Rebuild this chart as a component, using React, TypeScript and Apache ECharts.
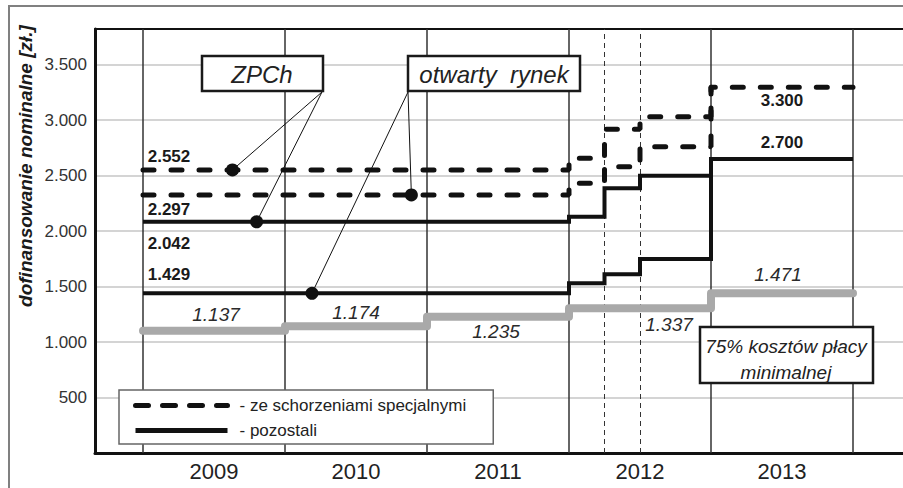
import React, { useEffect, useRef } from 'react';
import * as echarts from 'echarts';

// ---- data ----
const yearLabels = ['2009', '2010', '2011', '2012', '2013'];
const yearBounds = [2009, 2010, 2011, 2012, 2013, 2014];
const quarterBounds = [2012.25, 2012.5];
const stepX = [2009, 2012, 2012.25, 2012.5, 2013, 2014];
const zpchSpecial = [2550, 2655, 2916, 3030, 3295, 3295];
const openSpecial = [2325, 2430, 2580, 2760, 3295];
const zpchOther = [2083, 2129, 2385, 2498, 2649, 2649];
const openOther = [1439, 1529, 1610, 1748, 2649];
const minWageX = [2009, 2010, 2011, 2012, 2013, 2014];
const minWage75 = [1102, 1143, 1228, 1304, 1439, 1439];
const minWageLabels = ['1.137', '1.174', '1.235', '1.337', '1.471'];
const zpchSpecialLabels = ['2.552', '3.300'];
const openSpecialLabels = ['2.297'];
const zpchOtherLabels = ['2.042', '2.700'];
const openOtherLabels = ['1.429'];
const legendNames = ['- ze schorzeniami specjalnymi', '- pozostali'];
const yTicksMax = 3500;

const FONT = "'Liberation Sans', Arial, sans-serif";

const pts = (xs: number[], ys: number[]) => ys.map((y, i) => [xs[i], y]);

const fmtY = (v: number) => {
  if (v <= 0 || v > yTicksMax) return '';
  if (v >= 1000) return Math.floor(v / 1000) + '.' + String(v % 1000).padStart(3, '0');
  return String(v);
};

const boldStyle = { fontSize: 17, fontWeight: 'bold', color: '#1a1a1a', fontFamily: FONT };
const italStyle = { fontSize: 19, fontStyle: 'italic', color: '#2a2a2a', fontFamily: FONT };

const lbl = (coord: number[], text: string, offset: number[], style: any) => ({
  coord,
  symbol: 'circle',
  symbolSize: 1,
  itemStyle: { color: 'rgba(0,0,0,0)' },
  label: { show: true, position: 'inside', offset, formatter: text, ...style },
});

const boxText = (x: number, y: number, text: string, size: number) => ({
  type: 'text',
  x,
  y,
  z: 101,
  silent: true,
  style: {
    text,
    fontSize: size,
    fontStyle: 'italic',
    fontFamily: FONT,
    fill: '#222',
    align: 'center',
    verticalAlign: 'middle',
  },
});

const boxRect = (x: number, y: number, width: number, height: number) => ({
  type: 'rect',
  z: 100,
  silent: true,
  shape: { x, y, width, height },
  style: { fill: '#fff', stroke: '#1a1a1a', lineWidth: 2.5 },
});

export default function App() {
  const ref = useRef<HTMLDivElement>(null);
  useEffect(() => {
    if (!ref.current) return;
    const chart = echarts.init(ref.current, undefined, { renderer: 'svg' });
    const xMin = 2009 - 48 / 142;
    const xMax = xMin + 808 / 142;

    const dashStyle = { color: '#111', width: 5, type: [11, 17], cap: 'round' };
    const solidStyle = { color: '#111', width: 4, join: 'miter' };

    const option: any = {
      animation: false,
      backgroundColor: '#fff',
      color: ['#111'],
      textStyle: { fontFamily: FONT },
      grid: { left: 95, right: 0, top: 29, bottom: 35, containLabel: false },
      xAxis: [
        {
          type: 'value',
          min: xMin,
          max: xMax,
          axisLine: { show: true, onZero: false, lineStyle: { color: '#111', width: 3 } },
          axisTick: { show: false },
          splitLine: { show: false },
          axisLabel: {
            show: true,
            customValues: yearLabels.map((_, i) => yearBounds[i] + 0.5),
            formatter: (v: number) => yearLabels[Math.round(v - yearBounds[0] - 0.5)] ?? '',
            fontSize: 22,
            color: '#222',
            margin: 7,
            fontFamily: FONT,
          },
        },
        {
          type: 'value',
          position: 'top',
          min: xMin,
          max: xMax,
          axisLine: { show: true, onZero: false, lineStyle: { color: '#111', width: 2 } },
          axisTick: { show: false },
          splitLine: { show: false },
          axisLabel: { show: false },
        },
      ],
      yAxis: {
        type: 'value',
        min: 0,
        max: 3820,
        interval: 500,
        axisLine: { show: true, onZero: false, lineStyle: { color: '#111', width: 3 } },
        axisTick: { show: false },
        axisLabel: {
          formatter: fmtY,
          fontSize: 17,
          color: '#333',
          margin: 8,
          showMaxLabel: false,
          fontFamily: FONT,
        },
        splitLine: { show: true, lineStyle: { color: '#c6c6c6', width: 1.5 } },
      },
      legend: {
        left: 119,
        top: 390,
        orient: 'vertical',
        align: 'left',
        backgroundColor: '#fff',
        borderColor: '#666',
        borderWidth: 1.5,
        borderRadius: 0,
        padding: [7, 27, 5, 14],
        itemWidth: 92,
        itemHeight: 14,
        itemGap: 8,
        selectedMode: false,
        itemStyle: { color: 'rgba(0,0,0,0)', borderWidth: 0, opacity: 0 },
        textStyle: { fontSize: 17, color: '#222', fontFamily: FONT, padding: [0, 0, 0, 7] },
        data: [
          { name: legendNames[0], lineStyle: { type: [13, 14], width: 5, cap: 'round', color: '#111' } },
          { name: legendNames[1], lineStyle: { width: 5, color: '#111' } },
        ],
      },
      graphic: [
        {
          type: 'rect',
          silent: true,
          z: 100,
          shape: { x: 9, y: 6, width: 1000, height: 1000 },
          style: { fill: 'none', stroke: '#808080', lineWidth: 2 },
        },
        {
          type: 'text',
          x: 25,
          y: 166,
          rotation: Math.PI / 2,
          z: 100,
          style: {
            text: 'dofinansowanie nominalne [zł.]',
            fontSize: 19,
            fontWeight: 'bold',
            fontStyle: 'italic',
            fontFamily: FONT,
            fill: '#1a1a1a',
            align: 'center',
            verticalAlign: 'middle',
          },
        },
        boxRect(202, 56, 121, 35),
        boxText(262, 74, 'ZPCh', 24),
        boxRect(408, 56, 172, 35),
        boxText(494, 74, 'otwarty  rynek', 24),
        boxRect(700, 327, 173, 56),
        boxText(786, 346, '75% kosztów płacy', 19),
        boxText(786, 372, 'minimalnej', 19),
      ],
      series: [
        {
          name: 'grid-lines',
          type: 'line',
          data: [],
          silent: true,
          markLine: {
            silent: true,
            z: 1,
            symbol: ['none', 'none'],
            label: { show: false },
            data: [
              ...yearBounds.map((x) => ({ xAxis: x, lineStyle: { color: '#333', width: 1.5, type: 'solid' } })),
              ...quarterBounds.map((x) => ({ xAxis: x, lineStyle: { color: '#333', width: 1, type: [5, 4] } })),
            ],
          },
        },
        {
          name: '75%',
          type: 'line',
          step: 'end',
          symbol: 'none',
          silent: true,
          data: pts(minWageX, minWage75),
          lineStyle: { color: '#a9a9a9', width: 8, cap: 'round', join: 'round' },
          markPoint: {
            silent: true,
            data: [
              lbl([minWageX[0] + 0.5, minWage75[0]], minWageLabels[0], [2, -16], italStyle),
              lbl([minWageX[1] + 0.5, minWage75[1]], minWageLabels[1], [0, -14], italStyle),
              lbl([minWageX[2] + 0.5, minWage75[2]], minWageLabels[2], [-2, 15], italStyle),
              lbl([minWageX[3] + 0.5, minWage75[3]], minWageLabels[3], [29, 16], italStyle),
              lbl([minWageX[4] + 0.5, minWage75[4]], minWageLabels[4], [-4, -19], italStyle),
            ],
          },
        },
        {
          name: legendNames[1],
          type: 'line',
          step: 'end',
          symbol: 'none',
          silent: true,
          itemStyle: { color: '#111' },
          data: pts(stepX, openOther),
          lineStyle: solidStyle,
          markPoint: {
            silent: true,
            data: [lbl([stepX[0], openOther[0]], openOtherLabels[0], [26, -19], boldStyle)],
          },
        },
        {
          name: legendNames[1],
          type: 'line',
          step: 'end',
          symbol: 'none',
          silent: true,
          itemStyle: { color: '#111' },
          data: pts(stepX, zpchOther),
          lineStyle: solidStyle,
          markPoint: {
            silent: true,
            data: [
              lbl([stepX[0], zpchOther[0]], zpchOtherLabels[0], [26, 22], boldStyle),
              lbl([stepX[4], zpchOther[4]], zpchOtherLabels[1], [71, -16], boldStyle),
            ],
          },
        },
        {
          name: legendNames[0],
          type: 'line',
          step: 'end',
          symbol: 'none',
          silent: true,
          itemStyle: { color: '#111' },
          data: pts(stepX, openSpecial),
          lineStyle: dashStyle,
          markPoint: {
            silent: true,
            data: [lbl([stepX[0], openSpecial[0]], openSpecialLabels[0], [26, 15], boldStyle)],
          },
        },
        {
          name: legendNames[0],
          type: 'line',
          step: 'end',
          symbol: 'none',
          silent: true,
          itemStyle: { color: '#111' },
          data: pts(stepX, zpchSpecial),
          lineStyle: dashStyle,
          markPoint: {
            silent: true,
            data: [
              lbl([stepX[0], zpchSpecial[0]], zpchSpecialLabels[0], [26, -13], boldStyle),
              lbl([stepX[4], zpchSpecial[4]], zpchSpecialLabels[1], [71, 13], boldStyle),
            ],
          },
        },
        {
          name: 'pointers',
          type: 'scatter',
          silent: true,
          symbolSize: 13,
          itemStyle: { color: '#111', opacity: 1 },
          data: [
            [2009.63, zpchSpecial[0]],
            [2009.8, zpchOther[0]],
            [2010.89, openSpecial[0]],
            [2010.19, openOther[0]],
          ],
          markLine: {
            silent: true,
            symbol: ['none', 'none'],
            label: { show: false },
            lineStyle: { color: '#111', width: 1, type: 'solid', opacity: 1 },
            data: [
              [{ coord: [2009.63, zpchSpecial[0]] }, { x: 322, y: 92 }],
              [{ coord: [2009.8, zpchOther[0]] }, { x: 322, y: 92 }],
              [{ coord: [2010.89, openSpecial[0]] }, { x: 408, y: 92 }],
              [{ coord: [2010.19, openOther[0]] }, { x: 408, y: 92 }],
            ],
          },
        },
      ],
    };
    chart.setOption(option);
    return () => chart.dispose();
  }, []);
  return (
    <div
      ref={ref}
      style={{ position: 'absolute', left: 0, top: 0, width: 903, height: 488, background: '#fff' }}
    />
  );
}
